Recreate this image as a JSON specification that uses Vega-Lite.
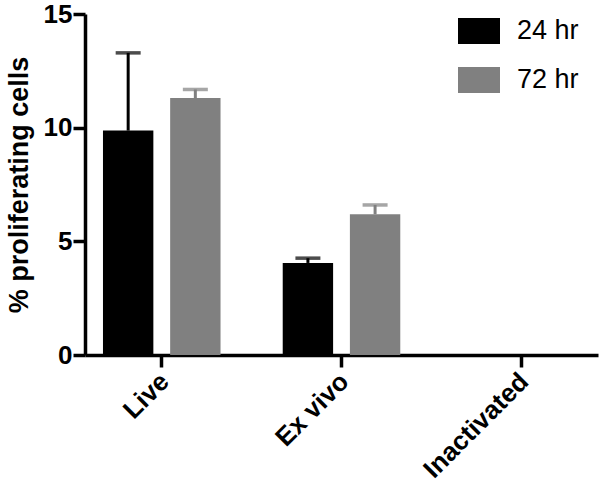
{
  "$schema": "https://vega.github.io/schema/vega-lite/v6.json",
  "autosize": "none",
  "width": 513,
  "height": 341,
  "padding": {"left": 85, "top": 14, "right": 2, "bottom": 136},
  "background": "white",
  "config": {
    "view": {"stroke": null},
    "axis": {
      "domainColor": "black", "domainWidth": 3.5, "tickColor": "black", "tickWidth": 3.5, "tickSize": 12,
      "labelFont": "Liberation Sans", "labelFontWeight": "bold", "labelFontSize": 26, "labelColor": "black",
      "titleFont": "Liberation Sans", "titleFontWeight": "bold", "titleFontSize": 27, "titleColor": "black",
      "grid": false
    }
  },
  "data": {"values": [
    {"group": "Live", "time": "24 hr", "value": 9.87, "upper": 13.29},
    {"group": "Live", "time": "72 hr", "value": 11.3, "upper": 11.68},
    {"group": "Ex vivo", "time": "24 hr", "value": 4.05, "upper": 4.26},
    {"group": "Ex vivo", "time": "72 hr", "value": 6.19, "upper": 6.6},
    {"group": "Inactivated", "time": "24 hr", "value": 0, "upper": 0},
    {"group": "Inactivated", "time": "72 hr", "value": 0, "upper": 0}
  ]},
  "encoding": {
    "x": {"field": "group", "type": "nominal", "sort": ["Live", "Ex vivo", "Inactivated"],
      "scale": {"paddingInner": 0.346, "paddingOuter": 0.1},
      "axis": {"title": null, "labelAngle": -45, "labelAlign": "right", "labelBaseline": "top", "labelPadding": 1, "labelOffset": -6}},
    "xOffset": {"field": "time", "type": "nominal", "scale": {"paddingInner": 0.25, "paddingOuter": 0}},
    "color": {"field": "time", "type": "nominal",
      "scale": {"domain": ["24 hr", "72 hr"], "range": ["#000000", "#808080"]},
      "legend": {"title": null, "orient": "none", "legendX": 373, "legendY": -4,
        "symbolType": "M-1,-0.62H1V0.62H-1Z", "symbolSize": 1764, "symbolStrokeWidth": 0, "symbolOpacity": 1,
        "labelFont": "Liberation Sans", "labelFontSize": 27, "labelColor": "black", "labelOffset": 17, "rowPadding": 14}}
  },
  "layer": [
    {
      "mark": {"type": "bar"},
      "encoding": {
        "y": {"field": "value", "type": "quantitative", "scale": {"domain": [0, 15], "nice": false},
          "axis": {"title": "% proliferating cells", "values": [0, 5, 10, 15], "labelPadding": 1, "titlePadding": 10}}
      }
    },
    {
      "mark": {"type": "rule", "strokeWidth": 3},
      "transform": [{"filter": "datum.upper > datum.value"}],
      "encoding": {
        "y": {"field": "value", "type": "quantitative"},
        "y2": {"field": "upper"}
      }
    },
    {
      "mark": {"type": "tick", "size": 25, "thickness": 3.5},
      "transform": [{"filter": "datum.upper > datum.value"}],
      "encoding": {
        "y": {"field": "upper", "type": "quantitative"}
      }
    }
  ]
}
